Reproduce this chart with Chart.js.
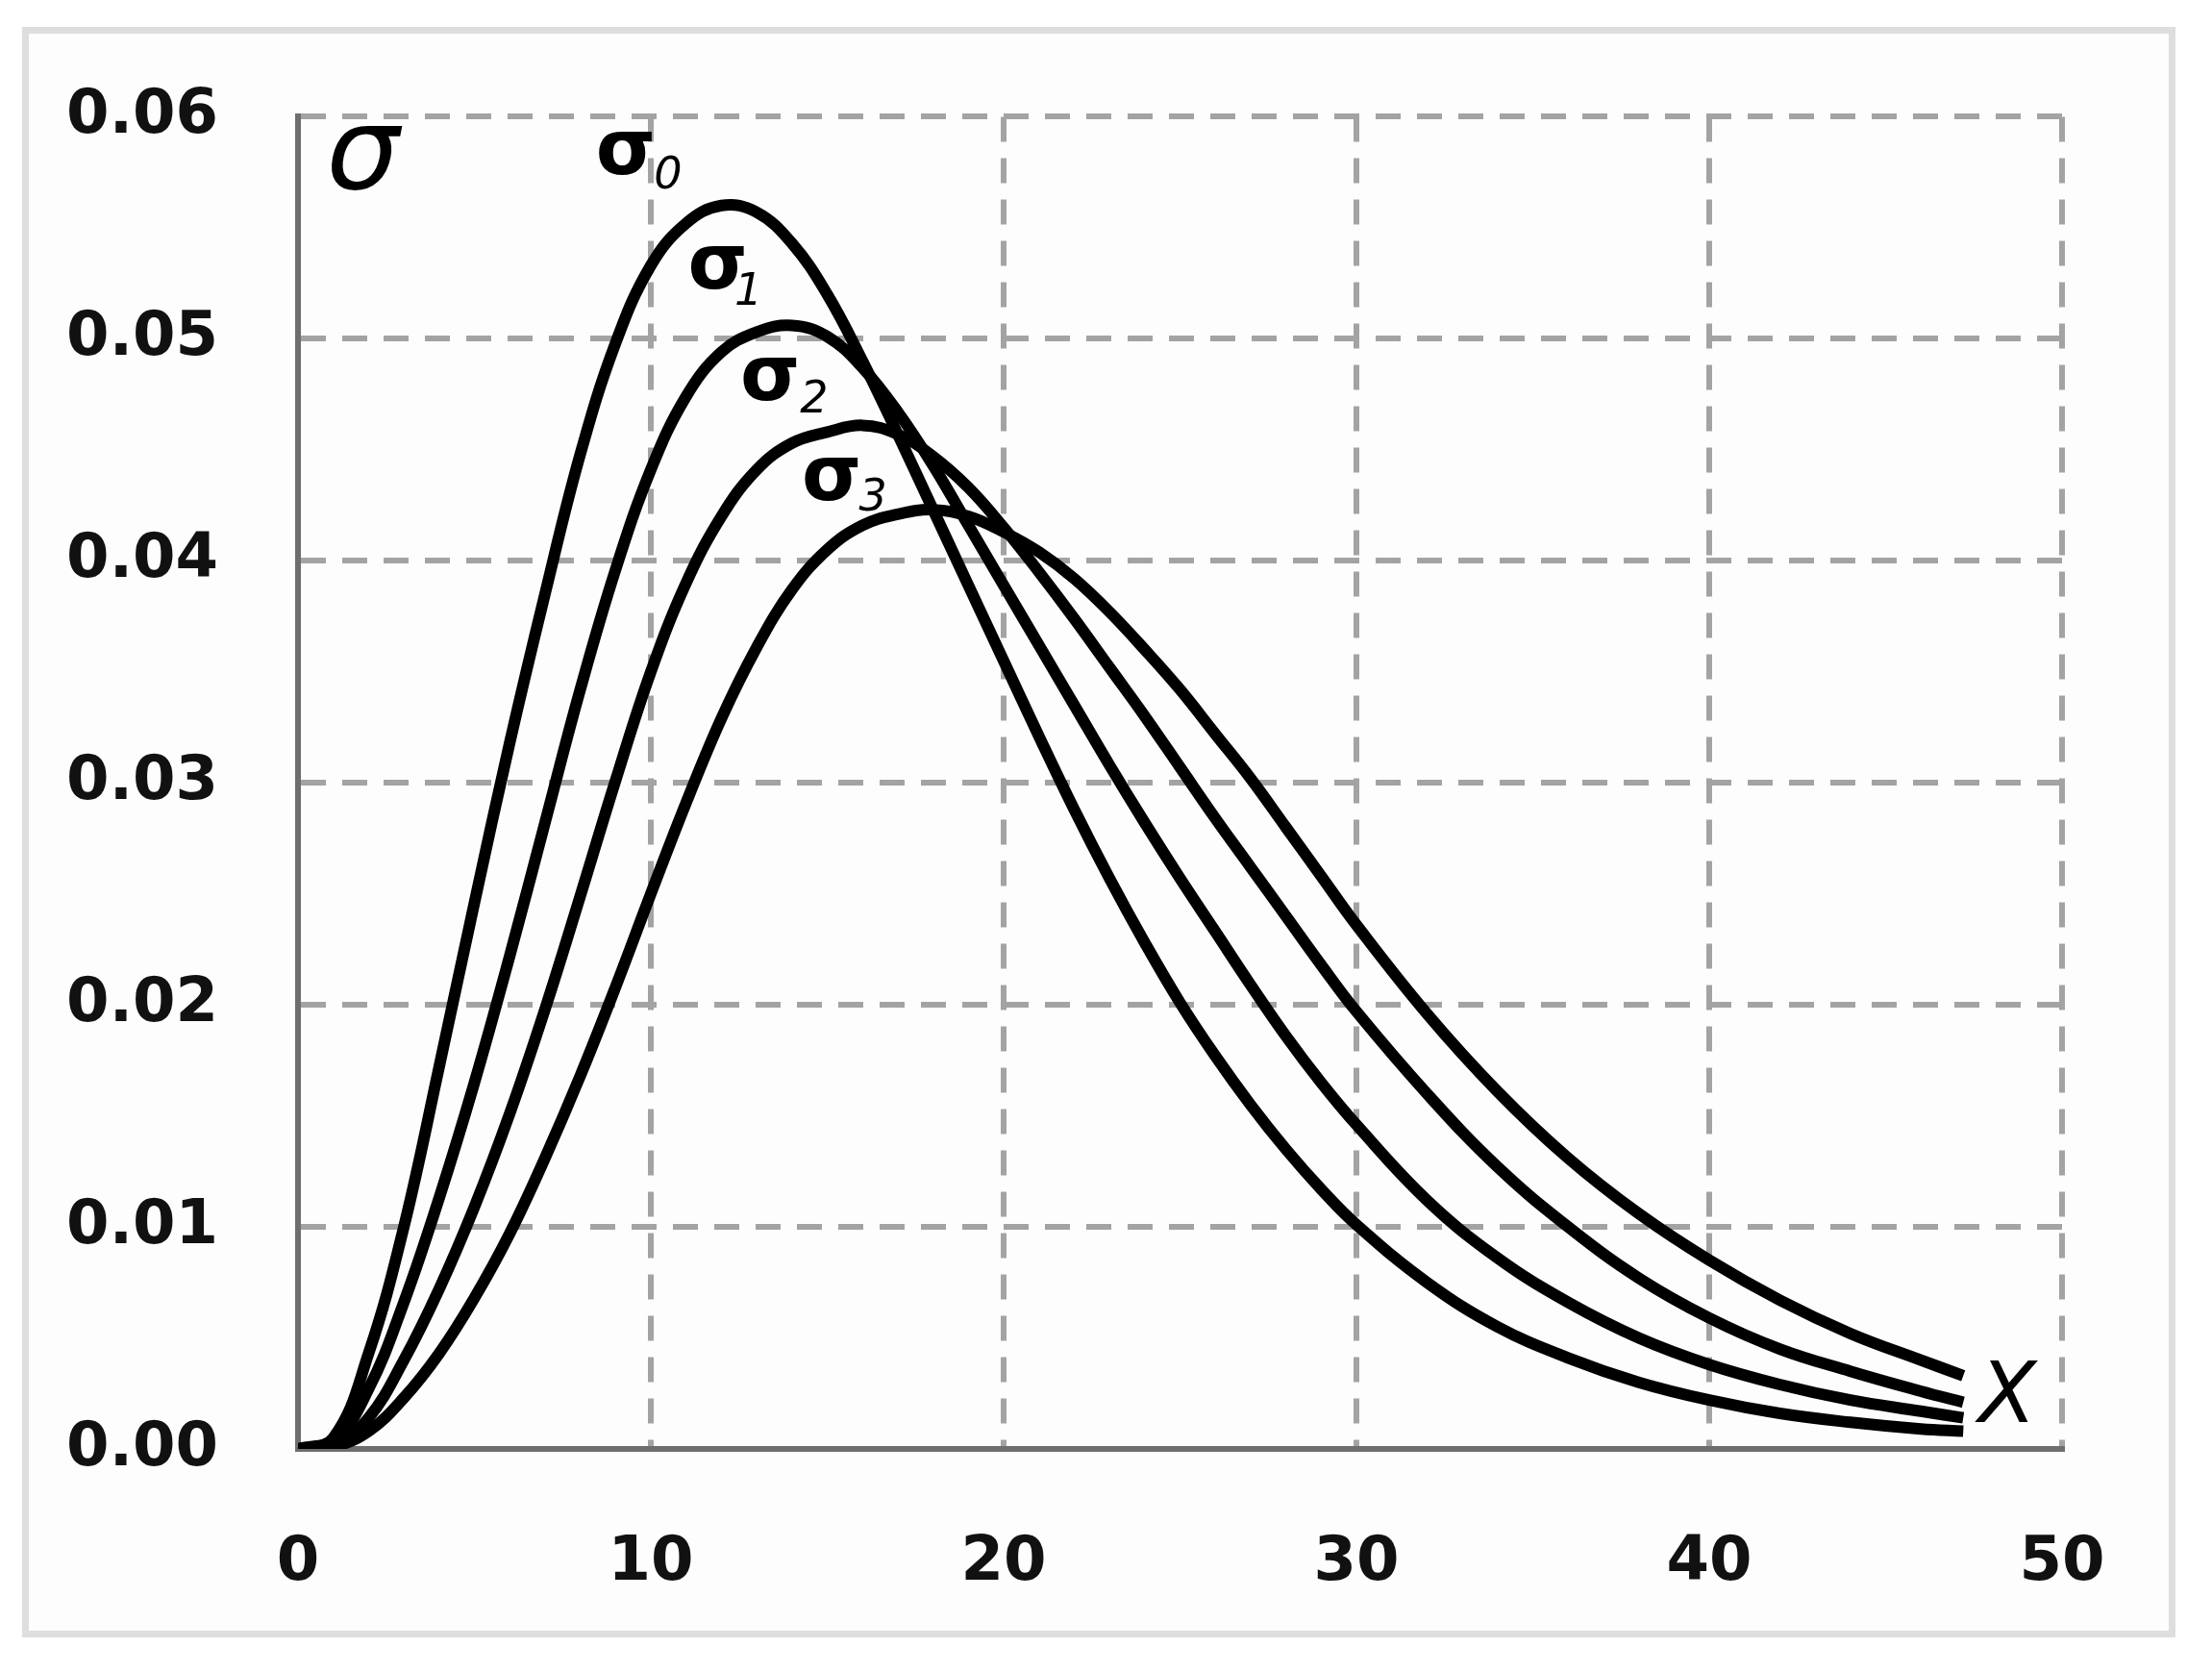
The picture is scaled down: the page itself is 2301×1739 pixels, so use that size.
<!DOCTYPE html>
<html>
<head>
<meta charset="utf-8">
<script src="https://cdn.jsdelivr.net/npm/chart.js@4.4.1/dist/chart.umd.min.js"></script>
<style>
html,body{margin:0;padding:0;background:#fff;}
#wrap{position:relative;width:2301px;height:1739px;overflow:hidden;}
#frame{position:absolute;left:23px;top:28px;width:2240px;height:1675px;border:7px solid #dedede;box-sizing:border-box;background:#fdfdfd;}
#c{position:absolute;left:0;top:0;}
</style>
</head>
<body>
<div id="wrap"><div id="frame"></div><canvas id="c" width="2301" height="1739"></canvas></div>
<script>
// ---- data ----
const xValues = [0,1,2,3,4,5,6,7,8,9,10,11,12,13,14,15,16,17,18,19,20,21,22,23,24,25,26,27,28,29,30,32,34,36,38,40,42,44,46,47.2];
const sigma0 = [0,0.0005,0.0043,0.0100,0.0172,0.0246,0.0318,0.0385,0.0448,0.0498,0.0533,0.0552,0.0560,0.0557,0.0543,0.0520,0.0490,0.0457,0.0423,0.0389,0.0355,0.0321,0.0288,0.0257,0.0228,0.0201,0.0177,0.0155,0.0135,0.0117,0.0101,0.0075,0.0055,0.0041,0.0030,0.0022,0.0016,0.0012,0.0009,0.0008];
const sigma1 = [0,0.0003,0.0027,0.0066,0.0113,0.0165,0.0222,0.0282,0.0342,0.0396,0.0441,0.0474,0.0494,0.0503,0.0506,0.0501,0.0487,0.0467,0.0443,0.0416,0.0389,0.0362,0.0335,0.0308,0.0282,0.0257,0.0233,0.0209,0.0186,0.0165,0.0146,0.0112,0.0086,0.0066,0.0050,0.0038,0.0029,0.0022,0.0017,0.0014];
const sigma2 = [0,0.0001,0.0014,0.0040,0.0072,0.0109,0.0151,0.0198,0.0249,0.0301,0.0350,0.0390,0.0420,0.0441,0.0453,0.0458,0.0461,0.0457,0.0447,0.0433,0.0415,0.0395,0.0374,0.0352,0.0330,0.0307,0.0284,0.0262,0.0240,0.0218,0.0197,0.0160,0.0127,0.0100,0.0077,0.0059,0.0045,0.0035,0.0026,0.0021];
const sigma3 = [0,0.0001,0.0008,0.0023,0.0043,0.0068,0.0097,0.0131,0.0168,0.0208,0.0250,0.0291,0.0329,0.0361,0.0387,0.0405,0.0416,0.0421,0.0423,0.0420,0.0413,0.0404,0.0392,0.0377,0.0360,0.0342,0.0322,0.0302,0.0280,0.0258,0.0236,0.0196,0.0161,0.0131,0.0106,0.0085,0.0067,0.0052,0.0040,0.0033];
const seriesNames = ['σ0','σ1','σ2','σ3'];
const xTicks = [0,10,20,30,40,50];
const xTickLabels = ['0','10','20','30','40','50'];
const yTicks = [0,0.01,0.02,0.03,0.04,0.05,0.06];
const yTickLabels = ['0.00','0.01','0.02','0.03','0.04','0.05','0.06'];

// text annotations (data coordinates, alphabetic baseline)
const labelTexts = ['σ','σ','0','σ','1','σ','2','σ','3','X'];
const labelX     = [1.83, 9.29,10.49, 11.90,12.77, 13.38,14.63, 15.13,16.30, 48.45];
const labelY     = [0.05675, 0.05740,0.05675, 0.05226,0.05153, 0.04726,0.04670, 0.04272,0.04225, 0.00120];
const labelKinds = ['axis','sig','sub','sig','sub','sig','sub','sig','sub','axisX'];

// ---- styles ----
const FONT = "'DejaVu Sans', Verdana, sans-serif";
const kindFont = {
  axis: "oblique 120px " + FONT,
  axisX: "oblique 88px " + FONT,
  sig: "bold 80px " + FONT,
  sub: "oblique 46px " + FONT
};

const annotPlugin = {
  id: 'annot',
  afterDatasetsDraw(chart) {
    const ctx = chart.ctx, xs = chart.scales.x, ys = chart.scales.y;
    ctx.save();
    ctx.fillStyle = '#000';
    ctx.textAlign = 'center';
    ctx.textBaseline = 'alphabetic';
    for (let i = 0; i < labelTexts.length; i++) {
      ctx.font = kindFont[labelKinds[i]];
      ctx.fillText(labelTexts[i], xs.getPixelForValue(labelX[i]), ys.getPixelForValue(labelY[i]));
    }
    ctx.restore();
  }
};

const series = [sigma0, sigma1, sigma2, sigma3];
const toPoints = ys => xValues.map((x, i) => ({x: x, y: ys[i]}));

const gridStyle = {color: '#a3a3a3', lineWidth: 6, drawTicks: false, tickLength: 0};
const borderStyle = {display: true, color: '#6e6e6e', width: 6, dash: [26, 17]};

new Chart(document.getElementById('c').getContext('2d'), {
  type: 'line',
  data: {
    datasets: series.map((s, i) => ({
      label: seriesNames[i],
      data: toPoints(s),
      borderColor: '#000',
      borderWidth: 12,
      pointRadius: 0,
      fill: false,
      tension: 0.4,
      borderJoinStyle: 'round'
    }))
  },
  options: {
    responsive: false,
    animation: false,
    devicePixelRatio: 1,
    layout: {padding: {left: 0, top: 104, right: 156, bottom: 0}},
    plugins: {legend: {display: false}, tooltip: {enabled: false}},
    scales: {
      x: {
        type: 'linear', min: 0, max: 50,
        afterFit(s) { s.height = 232; },
        afterBuildTicks(s) { s.ticks = xTicks.map(v => ({value: v})); },
        grid: gridStyle,
        border: borderStyle,
        ticks: {
          padding: 81, maxRotation: 0, autoSkip: false, color: '#111',
          font: {family: FONT, size: 64, weight: 'bold'},
          callback: (v, i) => xTickLabels[i]
        }
      },
      y: {
        type: 'linear', min: 0, max: 0.06,
        afterFit(s) { s.width = 310; },
        afterBuildTicks(s) { s.ticks = yTicks.map(v => ({value: v})); },
        grid: gridStyle,
        border: borderStyle,
        ticks: {
          padding: 83, autoSkip: false, color: '#111',
          font: {family: FONT, size: 64, weight: 'bold'},
          callback: (v, i) => yTickLabels[i]
        }
      }
    }
  },
  plugins: [annotPlugin]
});
</script>
</body>
</html>
